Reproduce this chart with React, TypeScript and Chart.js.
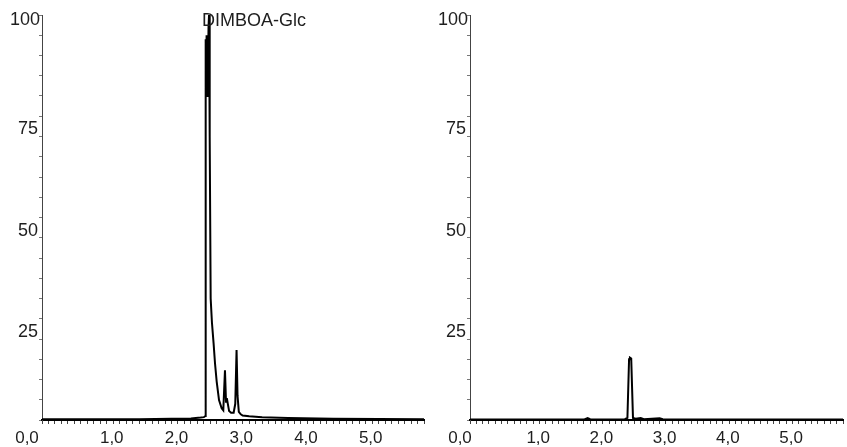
import React, { useEffect, useRef } from "react";
import { Chart, registerables } from "chart.js";
Chart.register(...registerables);

// ---- data (retention time in min, relative intensity in %) ----
const leftTimes = [0, 0.5, 1.0, 1.5, 2.0, 2.3, 2.45, 2.5, 2.524, 2.528, 2.535, 2.542, 2.549, 2.556, 2.563, 2.572, 2.58, 2.59, 2.605, 2.625, 2.65, 2.672, 2.698, 2.734, 2.775, 2.8, 2.826, 2.842, 2.855, 2.87, 2.89, 2.92, 2.96, 2.985, 3.005, 3.02, 3.04, 3.07, 3.1, 3.2, 3.4, 3.8, 4.5, 5.9];
const leftIntensity = [0.2, 0.2, 0.2, 0.2, 0.3, 0.4, 0.6, 0.7, 1.0, 94, 81, 95, 80, 94, 82, 97, 100, 70, 30, 24, 19, 14, 9.5, 4.9, 2.9, 2.4, 12.3, 4.5, 5.4, 4.0, 2.2, 1.8, 1.8, 4, 17.3, 6, 2, 1.4, 1.1, 0.9, 0.7, 0.5, 0.3, 0.2];

const rightTimes = [0, 1.0, 1.8, 1.86, 1.9, 2.0, 2.45, 2.49, 2.516, 2.53, 2.55, 2.578, 2.62, 2.7, 2.75, 3.0, 3.05, 4.0, 5.9];
const rightIntensity = [0.1, 0.1, 0.1, 0.5, 0.2, 0.1, 0.2, 0.5, 15.0, 15.4, 15.2, 0.5, 0.3, 0.5, 0.2, 0.4, 0.2, 0.1, 0.1];

const yTickValues = [25, 50, 75, 100];
const xLabelValues = [1, 2, 3, 4, 5];
const originLabel = "0,0";
const peakName = "DIMBOA-Glc";
const peakTime = 2.58;

const X_MAX = 5.9;
const Y_MAX = 100;
const FONT = '"Liberation Sans", Arial, Helvetica, sans-serif';
const TEXT = "#1e1e1e";

const fmt = (v: number) => v.toFixed(1).replace(".", ",");

type Props = {
  times: number[];
  values: number[];
  width: number;
  height: number;
  yAxisWidth: number;
  padRight: number;
  originDx: number;
  peakLabel?: { time: number; text: string };
};

function Chromatogram(p: Props) {
  const ref = useRef<HTMLCanvasElement>(null);
  useEffect(() => {
    const canvas = ref.current!;
    const labelPlugin = {
      id: "msLabels",
      afterDraw(chart: any) {
        const { ctx, chartArea, scales } = chart;
        ctx.save();
        ctx.fillStyle = TEXT;
        ctx.font = `18px ${FONT}`;
        ctx.textAlign = "right";
        ctx.textBaseline = "alphabetic";
        for (const v of yTickValues) {
          const py = scales.y.getPixelForValue(v);
          const off = v >= Y_MAX ? 10 : 18;
          const dx = v >= Y_MAX ? 2 : 4;
          ctx.fillText(String(v), chartArea.left - dx, py + off);
        }
        ctx.font = `17px ${FONT}`;
        ctx.textAlign = "center";
        ctx.fillText(originLabel, chartArea.left + p.originDx, chartArea.bottom + 23);
        if (p.peakLabel) {
          ctx.font = `18px ${FONT}`;
          ctx.textAlign = "left";
          const px = scales.x.getPixelForValue(p.peakLabel.time);
          ctx.fillText(p.peakLabel.text, px - 7, chartArea.top + 11);
        }
        ctx.restore();
      },
    };
    const chart = new Chart(canvas, {
      type: "line",
      data: {
        datasets: [
          {
            data: p.times.map((t, i) => ({ x: t, y: p.values[i] })),
            borderColor: "#000",
            borderWidth: 2,
            pointRadius: 0,
            tension: 0,
            fill: false,
          },
        ],
      },
      options: {
        responsive: false,
        animation: false,
        layout: { padding: { top: 15, right: p.padRight, left: 0, bottom: 0 } },
        plugins: { legend: { display: false }, tooltip: { enabled: false }, title: { display: false } },
        scales: {
          x: {
            type: "linear",
            min: 0,
            max: X_MAX,
            afterBuildTicks: (s: any) => {
              s.ticks = Array.from({ length: 60 }, (_, i) => ({ value: i / 10 }));
            },
            afterFit: (s: any) => {
              s.height = 27;
            },
            ticks: {
              autoSkip: false,
              maxRotation: 0,
              minRotation: 0,
              labelOffset: 5,
              padding: 4,
              color: TEXT,
              font: { family: FONT, size: 17 },
              callback: (v: any) =>
                xLabelValues.some((m) => Math.abs(m - Number(v)) < 1e-6) ? fmt(Number(v)) : "",
            },
            grid: { drawOnChartArea: false, drawTicks: true, tickLength: 4, color: "#444", lineWidth: 1 },
            border: { display: true, color: "#000", width: 2 },
          },
          y: {
            type: "linear",
            min: 0,
            max: Y_MAX,
            afterBuildTicks: (s: any) => {
              s.ticks = Array.from({ length: 41 }, (_, i) => ({ value: i * 2.5 }));
            },
            afterFit: (s: any) => {
              s.width = p.yAxisWidth;
            },
            ticks: { callback: () => "", font: { size: 10 } },
            grid: { drawOnChartArea: false, drawTicks: true, tickLength: 3, color: "#777", lineWidth: 1 },
            border: { display: true, color: "#444", width: 1 },
          },
        },
      },
      plugins: [labelPlugin],
    } as any);
    return () => chart.destroy();
  }, []);
  return <canvas ref={ref} width={p.width} height={p.height} style={{ width: p.width, height: p.height, display: "block" }} />;
}

export default function App() {
  return (
    <div style={{ position: "fixed", left: 0, top: 0, width: 847, height: 447, background: "#fff" }}>
      <div style={{ position: "absolute", left: 0, top: 0 }}>
        <Chromatogram
          times={leftTimes}
          values={leftIntensity}
          width={430}
          height={447}
          yAxisWidth={42}
          padRight={6}
          originDx={-15}
          peakLabel={{ time: peakTime, text: peakName }}
        />
      </div>
      <div style={{ position: "absolute", left: 430, top: 0 }}>
        <Chromatogram
          times={rightTimes}
          values={rightIntensity}
          width={417}
          height={447}
          yAxisWidth={40}
          padRight={0}
          originDx={-10}
        />
      </div>
    </div>
  );
}
